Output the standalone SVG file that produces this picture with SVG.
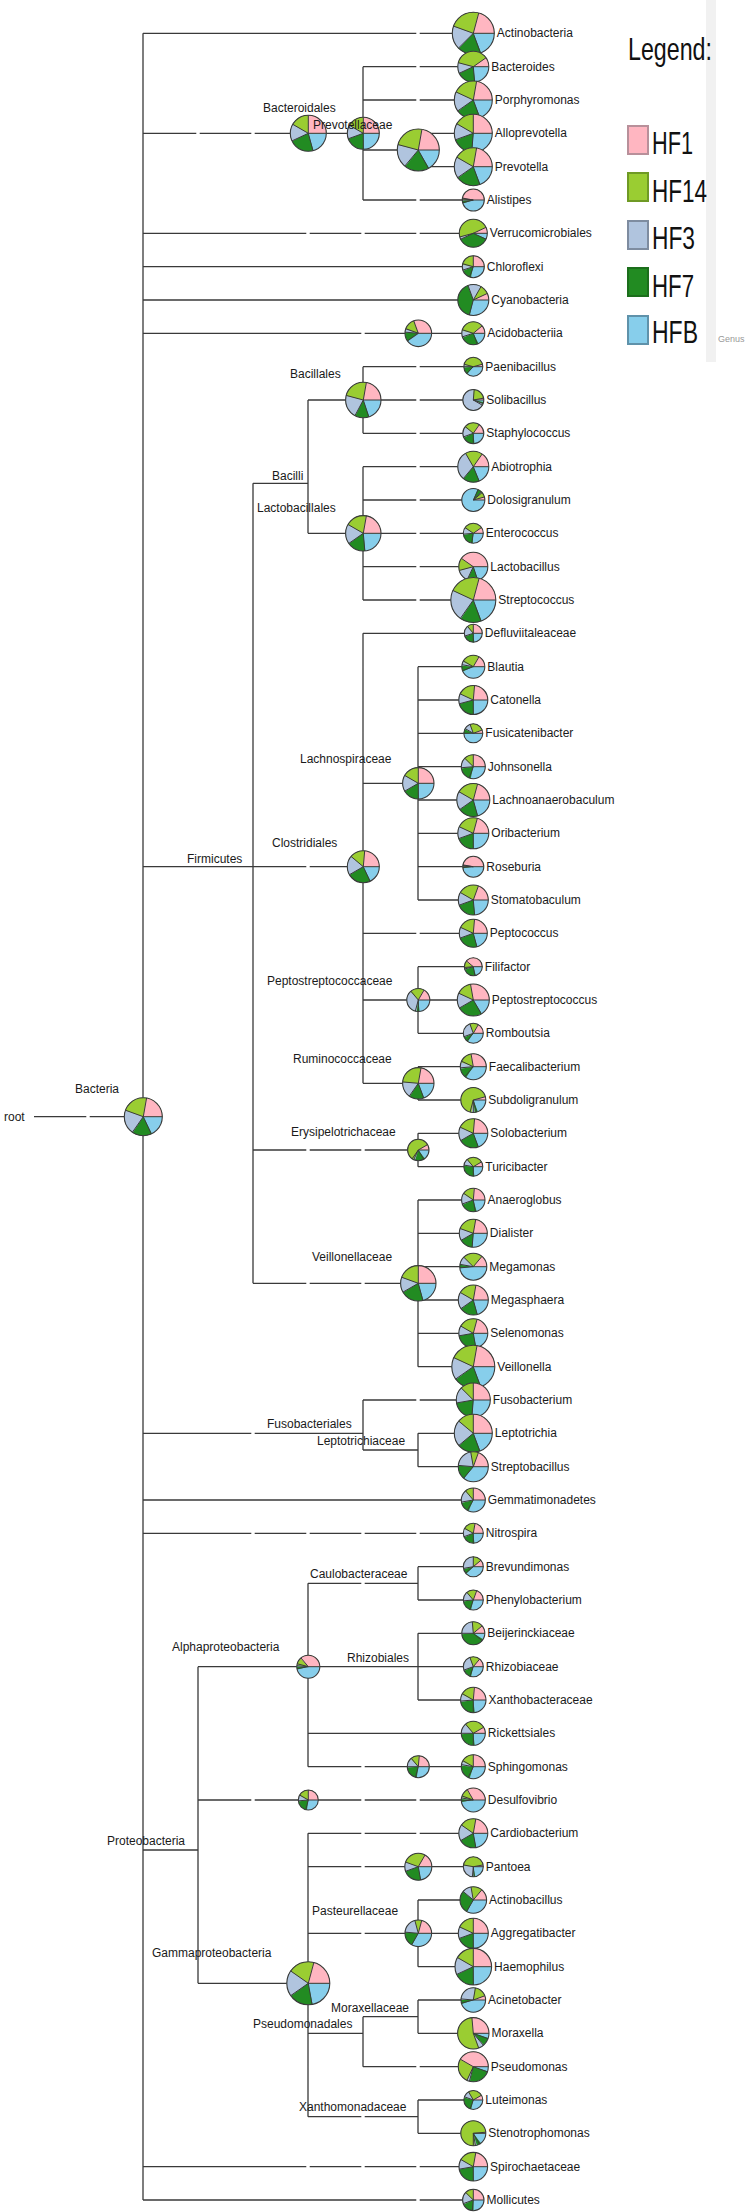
<svg xmlns="http://www.w3.org/2000/svg" xmlns:xlink="http://www.w3.org/1999/xlink" width="748" height="2212" viewBox="0 0 748 2212">
<style>
text{font-family:"Liberation Sans",Arial,sans-serif;font-size:12px;fill:#1a1a1a}
.e{fill:none;stroke:#3a3a3a;stroke-width:1.3}
.c1{stroke:#FFB6C1}.c14{stroke:#9ACD32}.c3{stroke:#B0C4DE}.c7{stroke:#228B22}
.lg{font-family:"Liberation Sans Narrow","Liberation Sans",Arial,sans-serif;font-size:31px;fill:#111}
.bx{stroke-width:2}
</style>
<defs>
<circle id="S" r="57.2958" fill="none" stroke-width="114.5916"/>
<circle id="D" r="114.5916" fill="#87CEEB"/>
<path id="R" d="M0 0H114.6" stroke="#3a3a3a" stroke-width="1" vector-effect="non-scaling-stroke"/>
<circle id="O" r="114.6" fill="none" stroke="#3a3a3a" stroke-width="1.1" vector-effect="non-scaling-stroke"/>
</defs>
<rect width="748" height="2212" fill="#fff"/>
<g id="legend">
<rect x="706" y="0" width="10" height="362" fill="#f1f1f1"/>
<text x="628" y="60" class="lg" style="font-size:32px" textLength="84" lengthAdjust="spacingAndGlyphs">Legend:</text>
<rect class="bx" x="628" y="126" width="20" height="28" fill="#FFB6C1" stroke="#b8909a"/>
<text x="652" y="154" class="lg" textLength="41" lengthAdjust="spacingAndGlyphs">HF1</text>
<rect class="bx" x="628" y="173" width="20" height="28" fill="#9ACD32" stroke="#6f9a25"/>
<text x="652" y="202" class="lg" textLength="55" lengthAdjust="spacingAndGlyphs">HF14</text>
<rect class="bx" x="628" y="221" width="20" height="28" fill="#B0C4DE" stroke="#7e8ca0"/>
<text x="652" y="249" class="lg" textLength="43" lengthAdjust="spacingAndGlyphs">HF3</text>
<rect class="bx" x="628" y="268" width="20" height="28" fill="#228B22" stroke="#1c6e1c"/>
<text x="652" y="297" class="lg" textLength="42" lengthAdjust="spacingAndGlyphs">HF7</text>
<rect class="bx" x="628" y="316" width="20" height="28" fill="#87CEEB" stroke="#5f92aa"/>
<text x="652" y="343" class="lg" textLength="46" lengthAdjust="spacingAndGlyphs">HFB</text>
<text x="718" y="342" style="font-size:9px;fill:#999">Genus</text>
</g>
<g id="connectors">
<path class="e" d="M34 1116.7H86.3M89.7 1116.7H143M143 33.3V2200
M143 33.3H416.3M419.7 33.3H473
M143 133.3H196.3M199.7 133.3H251.3M254.7 133.3H363M363 66.7V200M363 66.7H416.3M419.7 66.7H473M363 100H416.3M419.7 100H473M363 150H418M418 133.3V166.7M418 133.3H473M418 166.7H473M363 200H416.3M419.7 200H473
M143 233.3H306.3M309.7 233.3H361.3M364.7 233.3H416.3M419.7 233.3H473
M143 266.7H473M143 300H473
M143 333.3H361.3M364.7 333.3H473
M143 866.7H253M253 483.3V1283.3
M253 483.3H308M308 400V533.3M308 400H363M308 533.3H363
M363 366.7V433.3M363 366.7H416.3M419.7 366.7H473M363 400H416.3M419.7 400H473M363 433.3H416.3M419.7 433.3H473
M363 466.7V600M363 466.7H416.3M419.7 466.7H473M363 500H416.3M419.7 500H473M363 533.3H416.3M419.7 533.3H473M363 566.7H416.3M419.7 566.7H473M363 600H416.3M419.7 600H473
M253 866.7H306.3M309.7 866.7H363M363 633.3V1083.3M363 633.3H473
M363 783.3H418M418 666.7V900M418 666.7H473M418 700H473M418 733.3H473M418 766.7H473M418 800H473M418 833.3H473M418 866.7H473M418 900H473
M363 933.3H416.3M419.7 933.3H473
M363 1000H418M418 966.7V1033.3M418 966.7H473M418 1000H473M418 1033.3H473
M363 1083.3H418M418 1066.7V1100M418 1066.7H473M418 1100H473
M253 1150H306.3M309.7 1150H361.3M364.7 1150H418M418 1133.3V1166.7M418 1133.3H473M418 1166.7H473
M253 1283.3H306.3M309.7 1283.3H361.3M364.7 1283.3H418M418 1200V1366.7M418 1200H473M418 1233.3H473M418 1266.7H473M418 1300H473M418 1333.3H473M418 1366.7H473
M143 1433.3H251.3M254.7 1433.3H363M363 1400V1450M363 1400H416.3M419.7 1400H473M363 1450H418M418 1433.3V1466.7M418 1433.3H473M418 1466.7H473
M143 1500H473
M143 1533.3H251.3M254.7 1533.3H306.3M309.7 1533.3H361.3M364.7 1533.3H416.3M419.7 1533.3H473
M143 1850H198M198 1666.7V1983.3
M198 1666.7H308M308 1583.3V1766.7
M308 1583.3H361.3M364.7 1583.3H418M418 1566.7V1600M418 1566.7H473M418 1600H473
M308 1666.7H418M418 1633.3V1700M418 1633.3H473M418 1666.7H473M418 1700H473
M308 1733.3H473
M308 1766.7H361.3M364.7 1766.7H473
M198 1800H251.3M254.7 1800H361.3M364.7 1800H416.3M419.7 1800H473
M198 1983.3H308M308 1833.3V2116.7
M308 1833.3H361.3M364.7 1833.3H416.3M419.7 1833.3H473
M308 1866.7H361.3M364.7 1866.7H473
M308 1933.3H361.3M364.7 1933.3H418M418 1900V1966.7M418 1900H473M418 1933.3H473M418 1966.7H473
M308 2033.3H363M363 2016.7V2066.7M363 2016.7H418M418 2000V2033.3M418 2000H473M418 2033.3H473M363 2066.7H416.3M419.7 2066.7H473
M308 2116.7H361.3M364.7 2116.7H418M418 2100V2133.3M418 2100H473M418 2133.3H473
M143 2166.7H306.3M309.7 2166.7H361.3M364.7 2166.7H416.3M419.7 2166.7H473
M143 2200H416.3M419.7 2200H473"/>
</g>
<g id="nodes">
<g id="n-root"><text x="4" y="1121">root</text></g>
<g id="n-bacteria"><g transform="translate(143.3,1116.7) scale(.1658,-.1658)"><use href="#D"/><use href="#S" class="c7" stroke-dasharray="295 360"/><use href="#S" class="c3" stroke-dasharray="235 360"/><use href="#S" class="c14" stroke-dasharray="160 360"/><use href="#S" class="c1" stroke-dasharray="80 360"/><use href="#R"/><use href="#R" transform="rotate(80)"/><use href="#R" transform="rotate(160)"/><use href="#R" transform="rotate(235)"/><use href="#R" transform="rotate(295)"/><use href="#O"/></g><text x="75" y="1093">Bacteria</text></g>
<g id="n-bacteroidales"><g transform="translate(308.3,133.3) scale(.1571,-.1571)"><use href="#D"/><use href="#S" class="c7" stroke-dasharray="285 360"/><use href="#S" class="c3" stroke-dasharray="205 360"/><use href="#S" class="c14" stroke-dasharray="150 360"/><use href="#S" class="c1" stroke-dasharray="90 360"/><use href="#R"/><use href="#R" transform="rotate(90)"/><use href="#R" transform="rotate(150)"/><use href="#R" transform="rotate(205)"/><use href="#R" transform="rotate(285)"/><use href="#O"/></g><text x="263" y="112">Bacteroidales</text></g>
<g id="n-prevotellaceae"><g transform="translate(363.3,133.3) scale(.1396,-.1396)"><use href="#D"/><use href="#S" class="c7" stroke-dasharray="270 360"/><use href="#S" class="c3" stroke-dasharray="200 360"/><use href="#S" class="c14" stroke-dasharray="150 360"/><use href="#S" class="c1" stroke-dasharray="90 360"/><use href="#R"/><use href="#R" transform="rotate(90)"/><use href="#R" transform="rotate(150)"/><use href="#R" transform="rotate(200)"/><use href="#R" transform="rotate(270)"/><use href="#O"/></g><text x="313" y="129">Prevotellaceae</text></g>
<g id="n-prevotella-group"><g transform="translate(418.3,150) scale(.1833,-.1833)"><use href="#D"/><use href="#S" class="c7" stroke-dasharray="299 360"/><use href="#S" class="c3" stroke-dasharray="230 360"/><use href="#S" class="c14" stroke-dasharray="165 360"/><use href="#S" class="c1" stroke-dasharray="80 360"/><use href="#R"/><use href="#R" transform="rotate(80)"/><use href="#R" transform="rotate(165)"/><use href="#R" transform="rotate(230)"/><use href="#R" transform="rotate(299)"/><use href="#O"/></g></g>
<g id="n-acidobacteriia-node"><g transform="translate(418.3,333.3) scale(.1161,-.1161)"><use href="#D"/><use href="#S" class="c7" stroke-dasharray="215 360"/><use href="#S" class="c3" stroke-dasharray="175 360"/><use href="#S" class="c14" stroke-dasharray="160 360"/><use href="#S" class="c1" stroke-dasharray="110 360"/><use href="#R"/><use href="#R" transform="rotate(110)"/><use href="#R" transform="rotate(160)"/><use href="#R" transform="rotate(175)"/><use href="#R" transform="rotate(215)"/><use href="#O"/></g></g>
<g id="n-bacilli"><text x="272" y="480">Bacilli</text></g>
<g id="n-bacillales"><g transform="translate(363.3,400) scale(.1545,-.1545)"><use href="#D"/><use href="#S" class="c7" stroke-dasharray="288 360"/><use href="#S" class="c3" stroke-dasharray="242 360"/><use href="#S" class="c14" stroke-dasharray="165 360"/><use href="#S" class="c1" stroke-dasharray="80 360"/><use href="#R"/><use href="#R" transform="rotate(80)"/><use href="#R" transform="rotate(165)"/><use href="#R" transform="rotate(242)"/><use href="#R" transform="rotate(288)"/><use href="#O"/></g><text x="290" y="378">Bacillales</text></g>
<g id="n-lactobacillales"><g transform="translate(363.3,533.3) scale(.1545,-.1545)"><use href="#D"/><use href="#S" class="c7" stroke-dasharray="275 360"/><use href="#S" class="c3" stroke-dasharray="215 360"/><use href="#S" class="c14" stroke-dasharray="150 360"/><use href="#S" class="c1" stroke-dasharray="80 360"/><use href="#R"/><use href="#R" transform="rotate(80)"/><use href="#R" transform="rotate(150)"/><use href="#R" transform="rotate(215)"/><use href="#R" transform="rotate(275)"/><use href="#O"/></g><text x="257" y="512">Lactobacillales</text></g>
<g id="n-firmicutes"><text x="187" y="863">Firmicutes</text></g>
<g id="n-clostridiales"><g transform="translate(363.3,866.7) scale(.1396,-.1396)"><use href="#D"/><use href="#S" class="c7" stroke-dasharray="295 360"/><use href="#S" class="c3" stroke-dasharray="210 360"/><use href="#S" class="c14" stroke-dasharray="140 360"/><use href="#S" class="c1" stroke-dasharray="85 360"/><use href="#R"/><use href="#R" transform="rotate(85)"/><use href="#R" transform="rotate(140)"/><use href="#R" transform="rotate(210)"/><use href="#R" transform="rotate(295)"/><use href="#O"/></g><text x="272" y="847">Clostridiales</text></g>
<g id="n-lachnospiraceae"><g transform="translate(418.3,783.3) scale(.1370,-.1370)"><use href="#D"/><use href="#S" class="c7" stroke-dasharray="270 360"/><use href="#S" class="c3" stroke-dasharray="210 360"/><use href="#S" class="c14" stroke-dasharray="150 360"/><use href="#S" class="c1" stroke-dasharray="90 360"/><use href="#R"/><use href="#R" transform="rotate(90)"/><use href="#R" transform="rotate(150)"/><use href="#R" transform="rotate(210)"/><use href="#R" transform="rotate(270)"/><use href="#O"/></g><text x="300" y="763">Lachnospiraceae</text></g>
<g id="n-peptostreptococcaceae"><g transform="translate(418.3,1000) scale(.1004,-.1004)"><use href="#D"/><use href="#S" class="c7" stroke-dasharray="270 360"/><use href="#S" class="c3" stroke-dasharray="255 360"/><use href="#S" class="c14" stroke-dasharray="130 360"/><use href="#S" class="c1" stroke-dasharray="60 360"/><use href="#R"/><use href="#R" transform="rotate(60)"/><use href="#R" transform="rotate(130)"/><use href="#R" transform="rotate(255)"/><use href="#R" transform="rotate(270)"/><use href="#O"/></g><text x="267" y="985">Peptostreptococcaceae</text></g>
<g id="n-ruminococcaceae"><g transform="translate(418.3,1083.3) scale(.1370,-.1370)"><use href="#D"/><use href="#S" class="c7" stroke-dasharray="290 360"/><use href="#S" class="c3" stroke-dasharray="235 360"/><use href="#S" class="c14" stroke-dasharray="175 360"/><use href="#S" class="c1" stroke-dasharray="80 360"/><use href="#R"/><use href="#R" transform="rotate(80)"/><use href="#R" transform="rotate(175)"/><use href="#R" transform="rotate(235)"/><use href="#R" transform="rotate(290)"/><use href="#O"/></g><text x="293" y="1063">Ruminococcaceae</text></g>
<g id="n-erysipelotrichaceae"><g transform="translate(418.3,1150) scale(.0934,-.0934)"><use href="#D"/><use href="#S" class="c7" stroke-dasharray="300 360"/><use href="#S" class="c3" stroke-dasharray="245 360"/><use href="#S" class="c14" stroke-dasharray="235 360"/><use href="#S" class="c1" stroke-dasharray="30 360"/><use href="#R"/><use href="#R" transform="rotate(30)"/><use href="#R" transform="rotate(235)"/><use href="#R" transform="rotate(245)"/><use href="#R" transform="rotate(300)"/><use href="#O"/></g><text x="291" y="1136">Erysipelotrichaceae</text></g>
<g id="n-veillonellaceae"><g transform="translate(418.3,1283.3) scale(.1545,-.1545)"><use href="#D"/><use href="#S" class="c7" stroke-dasharray="285 360"/><use href="#S" class="c3" stroke-dasharray="210 360"/><use href="#S" class="c14" stroke-dasharray="160 360"/><use href="#S" class="c1" stroke-dasharray="90 360"/><use href="#R"/><use href="#R" transform="rotate(90)"/><use href="#R" transform="rotate(160)"/><use href="#R" transform="rotate(210)"/><use href="#R" transform="rotate(285)"/><use href="#O"/></g><text x="312" y="1261">Veillonellaceae</text></g>
<g id="n-fusobacteriales"><text x="267" y="1428">Fusobacteriales</text></g>
<g id="n-leptotrichiaceae"><text x="317" y="1445">Leptotrichiaceae</text></g>
<g id="n-proteobacteria"><text x="107" y="1845">Proteobacteria</text></g>
<g id="n-alphaproteobacteria"><g transform="translate(308.3,1666.7) scale(.1004,-.1004)"><use href="#D"/><use href="#S" class="c7" stroke-dasharray="190 360"/><use href="#S" class="c3" stroke-dasharray="175 360"/><use href="#S" class="c14" stroke-dasharray="165 360"/><use href="#S" class="c1" stroke-dasharray="130 360"/><use href="#R"/><use href="#R" transform="rotate(130)"/><use href="#R" transform="rotate(165)"/><use href="#R" transform="rotate(175)"/><use href="#R" transform="rotate(190)"/><use href="#O"/></g><text x="172" y="1651">Alphaproteobacteria</text></g>
<g id="n-caulobacteraceae"><text x="310" y="1578">Caulobacteraceae</text></g>
<g id="n-rhizobiales"><text x="347" y="1662">Rhizobiales</text></g>
<g id="n-sphingomonas-node"><g transform="translate(418.3,1766.7) scale(.0960,-.0960)"><use href="#D"/><use href="#S" class="c7" stroke-dasharray="255 360"/><use href="#S" class="c3" stroke-dasharray="180 360"/><use href="#S" class="c14" stroke-dasharray="130 360"/><use href="#S" class="c1" stroke-dasharray="85 360"/><use href="#R"/><use href="#R" transform="rotate(85)"/><use href="#R" transform="rotate(130)"/><use href="#R" transform="rotate(180)"/><use href="#R" transform="rotate(255)"/><use href="#O"/></g></g>
<g id="n-desulfovibrio-node"><g transform="translate(308.3,1800) scale(.0873,-.0873)"><use href="#D"/><use href="#S" class="c7" stroke-dasharray="255 360"/><use href="#S" class="c3" stroke-dasharray="185 360"/><use href="#S" class="c14" stroke-dasharray="150 360"/><use href="#S" class="c1" stroke-dasharray="90 360"/><use href="#R"/><use href="#R" transform="rotate(90)"/><use href="#R" transform="rotate(150)"/><use href="#R" transform="rotate(185)"/><use href="#R" transform="rotate(255)"/><use href="#O"/></g></g>
<g id="n-gammaproteobacteria"><g transform="translate(308.3,1983.3) scale(.1876,-.1876)"><use href="#D"/><use href="#S" class="c7" stroke-dasharray="280 360"/><use href="#S" class="c3" stroke-dasharray="215 360"/><use href="#S" class="c14" stroke-dasharray="145 360"/><use href="#S" class="c1" stroke-dasharray="75 360"/><use href="#R"/><use href="#R" transform="rotate(75)"/><use href="#R" transform="rotate(145)"/><use href="#R" transform="rotate(215)"/><use href="#R" transform="rotate(280)"/><use href="#O"/></g><text x="152" y="1957">Gammaproteobacteria</text></g>
<g id="n-pantoea-node"><g transform="translate(418.3,1866.7) scale(.1178,-.1178)"><use href="#D"/><use href="#S" class="c7" stroke-dasharray="280 360"/><use href="#S" class="c3" stroke-dasharray="200 360"/><use href="#S" class="c14" stroke-dasharray="160 360"/><use href="#S" class="c1" stroke-dasharray="60 360"/><use href="#R"/><use href="#R" transform="rotate(60)"/><use href="#R" transform="rotate(160)"/><use href="#R" transform="rotate(200)"/><use href="#R" transform="rotate(280)"/><use href="#O"/></g></g>
<g id="n-pasteurellaceae"><g transform="translate(418.3,1933.3) scale(.1161,-.1161)"><use href="#D"/><use href="#S" class="c7" stroke-dasharray="240 360"/><use href="#S" class="c3" stroke-dasharray="175 360"/><use href="#S" class="c14" stroke-dasharray="105 360"/><use href="#S" class="c1" stroke-dasharray="75 360"/><use href="#R"/><use href="#R" transform="rotate(75)"/><use href="#R" transform="rotate(105)"/><use href="#R" transform="rotate(175)"/><use href="#R" transform="rotate(240)"/><use href="#O"/></g><text x="312" y="1915">Pasteurellaceae</text></g>
<g id="n-pseudomonadales"><text x="253" y="2028">Pseudomonadales</text></g>
<g id="n-moraxellaceae"><text x="331" y="2012">Moraxellaceae</text></g>
<g id="n-xanthomonadaceae"><text x="299" y="2111">Xanthomonadaceae</text></g>

<g id="l-actinobacteria"><g transform="translate(473.3,33.3) scale(.1833,-.1833)"><use href="#D"/><use href="#S" class="c7" stroke-dasharray="290 360"/><use href="#S" class="c3" stroke-dasharray="225 360"/><use href="#S" class="c14" stroke-dasharray="160 360"/><use href="#S" class="c1" stroke-dasharray="75 360"/><use href="#R"/><use href="#R" transform="rotate(75)"/><use href="#R" transform="rotate(160)"/><use href="#R" transform="rotate(225)"/><use href="#R" transform="rotate(290)"/><use href="#O"/></g><text x="496.8" y="37.3">Actinobacteria</text></g>
<g id="l-bacteroides"><g transform="translate(473.3,66.7) scale(.1353,-.1353)"><use href="#D"/><use href="#S" class="c7" stroke-dasharray="275 360"/><use href="#S" class="c3" stroke-dasharray="205 360"/><use href="#S" class="c14" stroke-dasharray="165 360"/><use href="#S" class="c1" stroke-dasharray="35 360"/><use href="#R"/><use href="#R" transform="rotate(35)"/><use href="#R" transform="rotate(165)"/><use href="#R" transform="rotate(205)"/><use href="#R" transform="rotate(275)"/><use href="#O"/></g><text x="491.3" y="70.7">Bacteroides</text></g>
<g id="l-porphyromonas"><g transform="translate(473.3,100) scale(.1658,-.1658)"><use href="#D"/><use href="#S" class="c7" stroke-dasharray="290 360"/><use href="#S" class="c3" stroke-dasharray="215 360"/><use href="#S" class="c14" stroke-dasharray="155 360"/><use href="#S" class="c1" stroke-dasharray="80 360"/><use href="#R"/><use href="#R" transform="rotate(80)"/><use href="#R" transform="rotate(155)"/><use href="#R" transform="rotate(215)"/><use href="#R" transform="rotate(290)"/><use href="#O"/></g><text x="494.8" y="104">Porphyromonas</text></g>
<g id="l-alloprevotella"><g transform="translate(473.3,133.3) scale(.1658,-.1658)"><use href="#D"/><use href="#S" class="c7" stroke-dasharray="265 360"/><use href="#S" class="c3" stroke-dasharray="200 360"/><use href="#S" class="c14" stroke-dasharray="150 360"/><use href="#S" class="c1" stroke-dasharray="90 360"/><use href="#R"/><use href="#R" transform="rotate(90)"/><use href="#R" transform="rotate(150)"/><use href="#R" transform="rotate(200)"/><use href="#R" transform="rotate(265)"/><use href="#O"/></g><text x="494.8" y="137.3">Alloprevotella</text></g>
<g id="l-prevotella"><g transform="translate(473.3,166.7) scale(.1658,-.1658)"><use href="#D"/><use href="#S" class="c7" stroke-dasharray="290 360"/><use href="#S" class="c3" stroke-dasharray="215 360"/><use href="#S" class="c14" stroke-dasharray="150 360"/><use href="#S" class="c1" stroke-dasharray="80 360"/><use href="#R"/><use href="#R" transform="rotate(80)"/><use href="#R" transform="rotate(150)"/><use href="#R" transform="rotate(215)"/><use href="#R" transform="rotate(290)"/><use href="#O"/></g><text x="494.8" y="170.7">Prevotella</text></g>
<g id="l-alistipes"><g transform="translate(473.3,200) scale(.0960,-.0960)"><use href="#D"/><use href="#S" class="c7" stroke-dasharray="195 360"/><use href="#S" class="c3" stroke-dasharray="180 360"/><use href="#S" class="c14" stroke-dasharray="174 360"/><use href="#S" class="c1" stroke-dasharray="170 360"/><use href="#R"/><use href="#R" transform="rotate(170)"/><use href="#R" transform="rotate(174)"/><use href="#R" transform="rotate(180)"/><use href="#R" transform="rotate(195)"/><use href="#O"/></g><text x="486.8" y="204">Alistipes</text></g>
<g id="l-verrucomicrobiales"><g transform="translate(473.3,233.3) scale(.1222,-.1222)"><use href="#D"/><use href="#S" class="c7" stroke-dasharray="335 360"/><use href="#S" class="c3" stroke-dasharray="205 360"/><use href="#S" class="c14" stroke-dasharray="195 360"/><use href="#S" class="c1" stroke-dasharray="25 360"/><use href="#R"/><use href="#R" transform="rotate(25)"/><use href="#R" transform="rotate(195)"/><use href="#R" transform="rotate(205)"/><use href="#R" transform="rotate(335)"/><use href="#O"/></g><text x="489.8" y="237.3">Verrucomicrobiales</text></g>
<g id="l-chloroflexi"><g transform="translate(473.3,266.7) scale(.0960,-.0960)"><use href="#D"/><use href="#S" class="c7" stroke-dasharray="250 360"/><use href="#S" class="c3" stroke-dasharray="198 360"/><use href="#S" class="c14" stroke-dasharray="165 360"/><use href="#S" class="c1" stroke-dasharray="90 360"/><use href="#R"/><use href="#R" transform="rotate(90)"/><use href="#R" transform="rotate(165)"/><use href="#R" transform="rotate(198)"/><use href="#R" transform="rotate(250)"/><use href="#O"/></g><text x="486.8" y="270.7">Chloroflexi</text></g>
<g id="l-cyanobacteria"><g transform="translate(473.3,300) scale(.1353,-.1353)"><use href="#D"/><use href="#S" class="c7" stroke-dasharray="255 360"/><use href="#S" class="c3" stroke-dasharray="110 360"/><use href="#S" class="c14" stroke-dasharray="60 360"/><use href="#S" class="c1" stroke-dasharray="25 360"/><use href="#R"/><use href="#R" transform="rotate(25)"/><use href="#R" transform="rotate(60)"/><use href="#R" transform="rotate(110)"/><use href="#R" transform="rotate(255)"/><use href="#O"/></g><text x="491.3" y="304">Cyanobacteria</text></g>
<g id="l-acidobacteriia"><g transform="translate(473.3,333.3) scale(.1004,-.1004)"><use href="#D"/><use href="#S" class="c7" stroke-dasharray="290 360"/><use href="#S" class="c3" stroke-dasharray="198 360"/><use href="#S" class="c14" stroke-dasharray="162 360"/><use href="#S" class="c1" stroke-dasharray="40 360"/><use href="#R"/><use href="#R" transform="rotate(40)"/><use href="#R" transform="rotate(162)"/><use href="#R" transform="rotate(198)"/><use href="#R" transform="rotate(290)"/><use href="#O"/></g><text x="487.3" y="337.3">Acidobacteriia</text></g>
<g id="l-paenibacillus"><g transform="translate(473.3,366.7) scale(.0829,-.0829)"><use href="#D"/><use href="#S" class="c7" stroke-dasharray="225 360"/><use href="#S" class="c3" stroke-dasharray="180 360"/><use href="#S" class="c14" stroke-dasharray="165 360"/><use href="#S" class="c1" stroke-dasharray="15 360"/><use href="#R"/><use href="#R" transform="rotate(15)"/><use href="#R" transform="rotate(165)"/><use href="#R" transform="rotate(180)"/><use href="#R" transform="rotate(225)"/><use href="#O"/></g><text x="485.3" y="370.7">Paenibacillus</text></g>
<g id="l-solibacillus"><g transform="translate(473.3,400) scale(.0916,-.0916)"><use href="#D"/><use href="#S" class="c7" stroke-dasharray="340 360"/><use href="#S" class="c3" stroke-dasharray="330 360"/><use href="#S" class="c14" stroke-dasharray="85 360"/><use href="#S" class="c1" stroke-dasharray="10 360"/><use href="#R"/><use href="#R" transform="rotate(10)"/><use href="#R" transform="rotate(85)"/><use href="#R" transform="rotate(330)"/><use href="#R" transform="rotate(340)"/><use href="#O"/></g><text x="486.3" y="404">Solibacillus</text></g>
<g id="l-staphylococcus"><g transform="translate(473.3,433.3) scale(.0916,-.0916)"><use href="#D"/><use href="#S" class="c7" stroke-dasharray="270 360"/><use href="#S" class="c3" stroke-dasharray="200 360"/><use href="#S" class="c14" stroke-dasharray="140 360"/><use href="#S" class="c1" stroke-dasharray="55 360"/><use href="#R"/><use href="#R" transform="rotate(55)"/><use href="#R" transform="rotate(140)"/><use href="#R" transform="rotate(200)"/><use href="#R" transform="rotate(270)"/><use href="#O"/></g><text x="486.3" y="437.3">Staphylococcus</text></g>
<g id="l-abiotrophia"><g transform="translate(473.3,466.7) scale(.1353,-.1353)"><use href="#D"/><use href="#S" class="c7" stroke-dasharray="292 360"/><use href="#S" class="c3" stroke-dasharray="230 360"/><use href="#S" class="c14" stroke-dasharray="120 360"/><use href="#S" class="c1" stroke-dasharray="55 360"/><use href="#R"/><use href="#R" transform="rotate(55)"/><use href="#R" transform="rotate(120)"/><use href="#R" transform="rotate(230)"/><use href="#R" transform="rotate(292)"/><use href="#O"/></g><text x="491.3" y="470.7">Abiotrophia</text></g>
<g id="l-dolosigranulum"><g transform="translate(473.3,500) scale(.1004,-.1004)"><use href="#D"/><use href="#S" class="c7" stroke-dasharray="65 360"/><use href="#S" class="c3" stroke-dasharray="45 360"/><use href="#S" class="c14" stroke-dasharray="40 360"/><use href="#S" class="c1" stroke-dasharray="15 360"/><use href="#R"/><use href="#R" transform="rotate(15)"/><use href="#R" transform="rotate(40)"/><use href="#R" transform="rotate(45)"/><use href="#R" transform="rotate(65)"/><use href="#O"/></g><text x="487.3" y="504">Dolosigranulum</text></g>
<g id="l-enterococcus"><g transform="translate(473.3,533.3) scale(.0873,-.0873)"><use href="#D"/><use href="#S" class="c7" stroke-dasharray="260 360"/><use href="#S" class="c3" stroke-dasharray="185 360"/><use href="#S" class="c14" stroke-dasharray="145 360"/><use href="#S" class="c1" stroke-dasharray="35 360"/><use href="#R"/><use href="#R" transform="rotate(35)"/><use href="#R" transform="rotate(145)"/><use href="#R" transform="rotate(185)"/><use href="#R" transform="rotate(260)"/><use href="#O"/></g><text x="485.8" y="537.3">Enterococcus</text></g>
<g id="l-lactobacillus"><g transform="translate(473.3,566.7) scale(.1265,-.1265)"><use href="#D"/><use href="#S" class="c7" stroke-dasharray="288 360"/><use href="#S" class="c3" stroke-dasharray="245 360"/><use href="#S" class="c14" stroke-dasharray="195 360"/><use href="#S" class="c1" stroke-dasharray="145 360"/><use href="#R"/><use href="#R" transform="rotate(145)"/><use href="#R" transform="rotate(195)"/><use href="#R" transform="rotate(245)"/><use href="#R" transform="rotate(288)"/><use href="#O"/></g><text x="490.3" y="570.7">Lactobacillus</text></g>
<g id="l-streptococcus"><g transform="translate(473.3,600) scale(.1964,-.1964)"><use href="#D"/><use href="#S" class="c7" stroke-dasharray="290 360"/><use href="#S" class="c3" stroke-dasharray="235 360"/><use href="#S" class="c14" stroke-dasharray="155 360"/><use href="#S" class="c1" stroke-dasharray="75 360"/><use href="#R"/><use href="#R" transform="rotate(75)"/><use href="#R" transform="rotate(155)"/><use href="#R" transform="rotate(235)"/><use href="#R" transform="rotate(290)"/><use href="#O"/></g><text x="498.3" y="604">Streptococcus</text></g>
<g id="l-defluviitaleaceae"><g transform="translate(473.3,633.3) scale(.0785,-.0785)"><use href="#D"/><use href="#S" class="c7" stroke-dasharray="270 360"/><use href="#S" class="c3" stroke-dasharray="198 360"/><use href="#S" class="c14" stroke-dasharray="130 360"/><use href="#S" class="c1" stroke-dasharray="90 360"/><use href="#R"/><use href="#R" transform="rotate(90)"/><use href="#R" transform="rotate(130)"/><use href="#R" transform="rotate(198)"/><use href="#R" transform="rotate(270)"/><use href="#O"/></g><text x="484.8" y="637.3">Defluviitaleaceae</text></g>
<g id="l-blautia"><g transform="translate(473.3,666.7) scale(.1004,-.1004)"><use href="#D"/><use href="#S" class="c7" stroke-dasharray="200 360"/><use href="#S" class="c3" stroke-dasharray="170 360"/><use href="#S" class="c14" stroke-dasharray="150 360"/><use href="#S" class="c1" stroke-dasharray="60 360"/><use href="#R"/><use href="#R" transform="rotate(60)"/><use href="#R" transform="rotate(150)"/><use href="#R" transform="rotate(170)"/><use href="#R" transform="rotate(200)"/><use href="#O"/></g><text x="487.3" y="670.7">Blautia</text></g>
<g id="l-catonella"><g transform="translate(473.3,700) scale(.1265,-.1265)"><use href="#D"/><use href="#S" class="c7" stroke-dasharray="270 360"/><use href="#S" class="c3" stroke-dasharray="195 360"/><use href="#S" class="c14" stroke-dasharray="155 360"/><use href="#S" class="c1" stroke-dasharray="85 360"/><use href="#R"/><use href="#R" transform="rotate(85)"/><use href="#R" transform="rotate(155)"/><use href="#R" transform="rotate(195)"/><use href="#R" transform="rotate(270)"/><use href="#O"/></g><text x="490.3" y="704">Catonella</text></g>
<g id="l-fusicatenibacter"><g transform="translate(473.3,733.3) scale(.0829,-.0829)"><use href="#D"/><use href="#S" class="c7" stroke-dasharray="180 360"/><use href="#S" class="c3" stroke-dasharray="150 360"/><use href="#S" class="c14" stroke-dasharray="110 360"/><use href="#S" class="c1" stroke-dasharray="20 360"/><use href="#R"/><use href="#R" transform="rotate(20)"/><use href="#R" transform="rotate(110)"/><use href="#R" transform="rotate(150)"/><use href="#R" transform="rotate(180)"/><use href="#O"/></g><text x="485.3" y="737.3">Fusicatenibacter</text></g>
<g id="l-johnsonella"><g transform="translate(473.3,766.7) scale(.1047,-.1047)"><use href="#D"/><use href="#S" class="c7" stroke-dasharray="250 360"/><use href="#S" class="c3" stroke-dasharray="185 360"/><use href="#S" class="c14" stroke-dasharray="135 360"/><use href="#S" class="c1" stroke-dasharray="90 360"/><use href="#R"/><use href="#R" transform="rotate(90)"/><use href="#R" transform="rotate(135)"/><use href="#R" transform="rotate(185)"/><use href="#R" transform="rotate(250)"/><use href="#O"/></g><text x="487.8" y="770.7">Johnsonella</text></g>
<g id="l-lachnoanaerobaculum"><g transform="translate(473.3,800) scale(.1440,-.1440)"><use href="#D"/><use href="#S" class="c7" stroke-dasharray="285 360"/><use href="#S" class="c3" stroke-dasharray="215 360"/><use href="#S" class="c14" stroke-dasharray="150 360"/><use href="#S" class="c1" stroke-dasharray="75 360"/><use href="#R"/><use href="#R" transform="rotate(75)"/><use href="#R" transform="rotate(150)"/><use href="#R" transform="rotate(215)"/><use href="#R" transform="rotate(285)"/><use href="#O"/></g><text x="492.3" y="804">Lachnoanaerobaculum</text></g>
<g id="l-oribacterium"><g transform="translate(473.3,833.3) scale(.1353,-.1353)"><use href="#D"/><use href="#S" class="c7" stroke-dasharray="270 360"/><use href="#S" class="c3" stroke-dasharray="200 360"/><use href="#S" class="c14" stroke-dasharray="155 360"/><use href="#S" class="c1" stroke-dasharray="75 360"/><use href="#R"/><use href="#R" transform="rotate(75)"/><use href="#R" transform="rotate(155)"/><use href="#R" transform="rotate(200)"/><use href="#R" transform="rotate(270)"/><use href="#O"/></g><text x="491.3" y="837.3">Oribacterium</text></g>
<g id="l-roseburia"><g transform="translate(473.3,866.7) scale(.0916,-.0916)"><use href="#D"/><use href="#S" class="c7" stroke-dasharray="184 360"/><use href="#S" class="c3" stroke-dasharray="177 360"/><use href="#S" class="c14" stroke-dasharray="174 360"/><use href="#S" class="c1" stroke-dasharray="170 360"/><use href="#R"/><use href="#R" transform="rotate(170)"/><use href="#R" transform="rotate(174)"/><use href="#R" transform="rotate(177)"/><use href="#R" transform="rotate(184)"/><use href="#O"/></g><text x="486.3" y="870.7">Roseburia</text></g>
<g id="l-stomatobaculum"><g transform="translate(473.3,900) scale(.1309,-.1309)"><use href="#D"/><use href="#S" class="c7" stroke-dasharray="275 360"/><use href="#S" class="c3" stroke-dasharray="200 360"/><use href="#S" class="c14" stroke-dasharray="150 360"/><use href="#S" class="c1" stroke-dasharray="70 360"/><use href="#R"/><use href="#R" transform="rotate(70)"/><use href="#R" transform="rotate(150)"/><use href="#R" transform="rotate(200)"/><use href="#R" transform="rotate(275)"/><use href="#O"/></g><text x="490.8" y="904">Stomatobaculum</text></g>
<g id="l-peptococcus"><g transform="translate(473.3,933.3) scale(.1222,-.1222)"><use href="#D"/><use href="#S" class="c7" stroke-dasharray="285 360"/><use href="#S" class="c3" stroke-dasharray="200 360"/><use href="#S" class="c14" stroke-dasharray="155 360"/><use href="#S" class="c1" stroke-dasharray="85 360"/><use href="#R"/><use href="#R" transform="rotate(85)"/><use href="#R" transform="rotate(155)"/><use href="#R" transform="rotate(200)"/><use href="#R" transform="rotate(285)"/><use href="#O"/></g><text x="489.8" y="937.3">Peptococcus</text></g>
<g id="l-filifactor"><g transform="translate(473.3,966.7) scale(.0785,-.0785)"><use href="#D"/><use href="#S" class="c7" stroke-dasharray="280 360"/><use href="#S" class="c3" stroke-dasharray="195 360"/><use href="#S" class="c14" stroke-dasharray="185 360"/><use href="#S" class="c1" stroke-dasharray="140 360"/><use href="#R"/><use href="#R" transform="rotate(140)"/><use href="#R" transform="rotate(185)"/><use href="#R" transform="rotate(195)"/><use href="#R" transform="rotate(280)"/><use href="#O"/></g><text x="484.8" y="970.7">Filifactor</text></g>
<g id="l-peptostreptococcus"><g transform="translate(473.3,1000) scale(.1396,-.1396)"><use href="#D"/><use href="#S" class="c7" stroke-dasharray="300 360"/><use href="#S" class="c3" stroke-dasharray="210 360"/><use href="#S" class="c14" stroke-dasharray="155 360"/><use href="#S" class="c1" stroke-dasharray="100 360"/><use href="#R"/><use href="#R" transform="rotate(100)"/><use href="#R" transform="rotate(155)"/><use href="#R" transform="rotate(210)"/><use href="#R" transform="rotate(300)"/><use href="#O"/></g><text x="491.8" y="1004">Peptostreptococcus</text></g>
<g id="l-romboutsia"><g transform="translate(473.3,1033.3) scale(.0873,-.0873)"><use href="#D"/><use href="#S" class="c7" stroke-dasharray="230 360"/><use href="#S" class="c3" stroke-dasharray="200 360"/><use href="#S" class="c14" stroke-dasharray="110 360"/><use href="#S" class="c1" stroke-dasharray="60 360"/><use href="#R"/><use href="#R" transform="rotate(60)"/><use href="#R" transform="rotate(110)"/><use href="#R" transform="rotate(200)"/><use href="#R" transform="rotate(230)"/><use href="#O"/></g><text x="485.8" y="1037.3">Romboutsia</text></g>
<g id="l-faecalibacterium"><g transform="translate(473.3,1066.7) scale(.1134,-.1134)"><use href="#D"/><use href="#S" class="c7" stroke-dasharray="230 360"/><use href="#S" class="c3" stroke-dasharray="185 360"/><use href="#S" class="c14" stroke-dasharray="155 360"/><use href="#S" class="c1" stroke-dasharray="100 360"/><use href="#R"/><use href="#R" transform="rotate(100)"/><use href="#R" transform="rotate(155)"/><use href="#R" transform="rotate(185)"/><use href="#R" transform="rotate(230)"/><use href="#O"/></g><text x="488.8" y="1070.7">Faecalibacterium</text></g>
<g id="l-subdoligranulum"><g transform="translate(473.3,1100) scale(.1091,-.1091)"><use href="#D"/><use href="#S" class="c7" stroke-dasharray="285 360"/><use href="#S" class="c3" stroke-dasharray="270 360"/><use href="#S" class="c14" stroke-dasharray="255 360"/><use href="#S" class="c1" stroke-dasharray="15 360"/><use href="#R"/><use href="#R" transform="rotate(15)"/><use href="#R" transform="rotate(255)"/><use href="#R" transform="rotate(270)"/><use href="#R" transform="rotate(285)"/><use href="#O"/></g><text x="488.3" y="1104">Subdoligranulum</text></g>
<g id="l-solobacterium"><g transform="translate(473.3,1133.3) scale(.1265,-.1265)"><use href="#D"/><use href="#S" class="c7" stroke-dasharray="290 360"/><use href="#S" class="c3" stroke-dasharray="210 360"/><use href="#S" class="c14" stroke-dasharray="155 360"/><use href="#S" class="c1" stroke-dasharray="85 360"/><use href="#R"/><use href="#R" transform="rotate(85)"/><use href="#R" transform="rotate(155)"/><use href="#R" transform="rotate(210)"/><use href="#R" transform="rotate(290)"/><use href="#O"/></g><text x="490.3" y="1137.3">Solobacterium</text></g>
<g id="l-turicibacter"><g transform="translate(473.3,1166.7) scale(.0829,-.0829)"><use href="#D"/><use href="#S" class="c7" stroke-dasharray="270 360"/><use href="#S" class="c3" stroke-dasharray="170 360"/><use href="#S" class="c14" stroke-dasharray="130 360"/><use href="#S" class="c1" stroke-dasharray="30 360"/><use href="#R"/><use href="#R" transform="rotate(30)"/><use href="#R" transform="rotate(130)"/><use href="#R" transform="rotate(170)"/><use href="#R" transform="rotate(270)"/><use href="#O"/></g><text x="485.3" y="1170.7">Turicibacter</text></g>
<g id="l-anaeroglobus"><g transform="translate(473.3,1200) scale(.1021,-.1021)"><use href="#D"/><use href="#S" class="c7" stroke-dasharray="280 360"/><use href="#S" class="c3" stroke-dasharray="200 360"/><use href="#S" class="c14" stroke-dasharray="145 360"/><use href="#S" class="c1" stroke-dasharray="85 360"/><use href="#R"/><use href="#R" transform="rotate(85)"/><use href="#R" transform="rotate(145)"/><use href="#R" transform="rotate(200)"/><use href="#R" transform="rotate(280)"/><use href="#O"/></g><text x="487.5" y="1204">Anaeroglobus</text></g>
<g id="l-dialister"><g transform="translate(473.3,1233.3) scale(.1222,-.1222)"><use href="#D"/><use href="#S" class="c7" stroke-dasharray="265 360"/><use href="#S" class="c3" stroke-dasharray="210 360"/><use href="#S" class="c14" stroke-dasharray="160 360"/><use href="#S" class="c1" stroke-dasharray="80 360"/><use href="#R"/><use href="#R" transform="rotate(80)"/><use href="#R" transform="rotate(160)"/><use href="#R" transform="rotate(210)"/><use href="#R" transform="rotate(265)"/><use href="#O"/></g><text x="489.8" y="1237.3">Dialister</text></g>
<g id="l-megamonas"><g transform="translate(473.3,1266.7) scale(.1178,-.1178)"><use href="#D"/><use href="#S" class="c7" stroke-dasharray="185 360"/><use href="#S" class="c3" stroke-dasharray="170 360"/><use href="#S" class="c14" stroke-dasharray="135 360"/><use href="#S" class="c1" stroke-dasharray="50 360"/><use href="#R"/><use href="#R" transform="rotate(50)"/><use href="#R" transform="rotate(135)"/><use href="#R" transform="rotate(170)"/><use href="#R" transform="rotate(185)"/><use href="#O"/></g><text x="489.3" y="1270.7">Megamonas</text></g>
<g id="l-megasphaera"><g transform="translate(473.3,1300) scale(.1309,-.1309)"><use href="#D"/><use href="#S" class="c7" stroke-dasharray="285 360"/><use href="#S" class="c3" stroke-dasharray="215 360"/><use href="#S" class="c14" stroke-dasharray="150 360"/><use href="#S" class="c1" stroke-dasharray="80 360"/><use href="#R"/><use href="#R" transform="rotate(80)"/><use href="#R" transform="rotate(150)"/><use href="#R" transform="rotate(215)"/><use href="#R" transform="rotate(285)"/><use href="#O"/></g><text x="490.8" y="1304">Megasphaera</text></g>
<g id="l-selenomonas"><g transform="translate(473.3,1333.3) scale(.1265,-.1265)"><use href="#D"/><use href="#S" class="c7" stroke-dasharray="280 360"/><use href="#S" class="c3" stroke-dasharray="190 360"/><use href="#S" class="c14" stroke-dasharray="150 360"/><use href="#S" class="c1" stroke-dasharray="75 360"/><use href="#R"/><use href="#R" transform="rotate(75)"/><use href="#R" transform="rotate(150)"/><use href="#R" transform="rotate(190)"/><use href="#R" transform="rotate(280)"/><use href="#O"/></g><text x="490.3" y="1337.3">Selenomonas</text></g>
<g id="l-veillonella"><g transform="translate(473.3,1366.7) scale(.1876,-.1876)"><use href="#D"/><use href="#S" class="c7" stroke-dasharray="290 360"/><use href="#S" class="c3" stroke-dasharray="215 360"/><use href="#S" class="c14" stroke-dasharray="155 360"/><use href="#S" class="c1" stroke-dasharray="80 360"/><use href="#R"/><use href="#R" transform="rotate(80)"/><use href="#R" transform="rotate(155)"/><use href="#R" transform="rotate(215)"/><use href="#R" transform="rotate(290)"/><use href="#O"/></g><text x="497.3" y="1370.7">Veillonella</text></g>
<g id="l-fusobacterium"><g transform="translate(473.3,1400) scale(.1484,-.1484)"><use href="#D"/><use href="#S" class="c7" stroke-dasharray="265 360"/><use href="#S" class="c3" stroke-dasharray="190 360"/><use href="#S" class="c14" stroke-dasharray="135 360"/><use href="#S" class="c1" stroke-dasharray="90 360"/><use href="#R"/><use href="#R" transform="rotate(90)"/><use href="#R" transform="rotate(135)"/><use href="#R" transform="rotate(190)"/><use href="#R" transform="rotate(265)"/><use href="#O"/></g><text x="492.8" y="1404">Fusobacterium</text></g>
<g id="l-leptotrichia"><g transform="translate(473.3,1433.3) scale(.1658,-.1658)"><use href="#D"/><use href="#S" class="c7" stroke-dasharray="290 360"/><use href="#S" class="c3" stroke-dasharray="220 360"/><use href="#S" class="c14" stroke-dasharray="140 360"/><use href="#S" class="c1" stroke-dasharray="90 360"/><use href="#R"/><use href="#R" transform="rotate(90)"/><use href="#R" transform="rotate(140)"/><use href="#R" transform="rotate(220)"/><use href="#R" transform="rotate(290)"/><use href="#O"/></g><text x="494.8" y="1437.3">Leptotrichia</text></g>
<g id="l-streptobacillus"><g transform="translate(473.3,1466.7) scale(.1309,-.1309)"><use href="#D"/><use href="#S" class="c7" stroke-dasharray="230 360"/><use href="#S" class="c3" stroke-dasharray="175 360"/><use href="#S" class="c14" stroke-dasharray="100 360"/><use href="#S" class="c1" stroke-dasharray="70 360"/><use href="#R"/><use href="#R" transform="rotate(70)"/><use href="#R" transform="rotate(100)"/><use href="#R" transform="rotate(175)"/><use href="#R" transform="rotate(230)"/><use href="#O"/></g><text x="490.8" y="1470.7">Streptobacillus</text></g>
<g id="l-gemmatimonadetes"><g transform="translate(473.3,1500) scale(.1047,-.1047)"><use href="#D"/><use href="#S" class="c7" stroke-dasharray="240 360"/><use href="#S" class="c3" stroke-dasharray="190 360"/><use href="#S" class="c14" stroke-dasharray="130 360"/><use href="#S" class="c1" stroke-dasharray="90 360"/><use href="#R"/><use href="#R" transform="rotate(90)"/><use href="#R" transform="rotate(130)"/><use href="#R" transform="rotate(190)"/><use href="#R" transform="rotate(240)"/><use href="#O"/></g><text x="487.8" y="1504">Gemmatimonadetes</text></g>
<g id="l-nitrospira"><g transform="translate(473.3,1533.3) scale(.0873,-.0873)"><use href="#D"/><use href="#S" class="c7" stroke-dasharray="270 360"/><use href="#S" class="c3" stroke-dasharray="200 360"/><use href="#S" class="c14" stroke-dasharray="150 360"/><use href="#S" class="c1" stroke-dasharray="80 360"/><use href="#R"/><use href="#R" transform="rotate(80)"/><use href="#R" transform="rotate(150)"/><use href="#R" transform="rotate(200)"/><use href="#R" transform="rotate(270)"/><use href="#O"/></g><text x="485.8" y="1537.3">Nitrospira</text></g>
<g id="l-brevundimonas"><g transform="translate(473.3,1566.7) scale(.0873,-.0873)"><use href="#D"/><use href="#S" class="c7" stroke-dasharray="220 360"/><use href="#S" class="c3" stroke-dasharray="190 360"/><use href="#S" class="c14" stroke-dasharray="90 360"/><use href="#S" class="c1" stroke-dasharray="40 360"/><use href="#R"/><use href="#R" transform="rotate(40)"/><use href="#R" transform="rotate(90)"/><use href="#R" transform="rotate(190)"/><use href="#R" transform="rotate(220)"/><use href="#O"/></g><text x="485.8" y="1570.7">Brevundimonas</text></g>
<g id="l-phenylobacterium"><g transform="translate(473.3,1600) scale(.0873,-.0873)"><use href="#D"/><use href="#S" class="c7" stroke-dasharray="250 360"/><use href="#S" class="c3" stroke-dasharray="185 360"/><use href="#S" class="c14" stroke-dasharray="130 360"/><use href="#S" class="c1" stroke-dasharray="70 360"/><use href="#R"/><use href="#R" transform="rotate(70)"/><use href="#R" transform="rotate(130)"/><use href="#R" transform="rotate(185)"/><use href="#R" transform="rotate(250)"/><use href="#O"/></g><text x="485.8" y="1604">Phenylobacterium</text></g>
<g id="l-beijerinckiaceae"><g transform="translate(473.3,1633.3) scale(.1004,-.1004)"><use href="#D"/><use href="#S" class="c7" stroke-dasharray="320 360"/><use href="#S" class="c3" stroke-dasharray="180 360"/><use href="#S" class="c14" stroke-dasharray="95 360"/><use href="#S" class="c1" stroke-dasharray="40 360"/><use href="#R"/><use href="#R" transform="rotate(40)"/><use href="#R" transform="rotate(95)"/><use href="#R" transform="rotate(180)"/><use href="#R" transform="rotate(320)"/><use href="#O"/></g><text x="487.3" y="1637.3">Beijerinckiaceae</text></g>
<g id="l-rhizobiaceae"><g transform="translate(473.3,1666.7) scale(.0873,-.0873)"><use href="#D"/><use href="#S" class="c7" stroke-dasharray="250 360"/><use href="#S" class="c3" stroke-dasharray="200 360"/><use href="#S" class="c14" stroke-dasharray="110 360"/><use href="#S" class="c1" stroke-dasharray="50 360"/><use href="#R"/><use href="#R" transform="rotate(50)"/><use href="#R" transform="rotate(110)"/><use href="#R" transform="rotate(200)"/><use href="#R" transform="rotate(250)"/><use href="#O"/></g><text x="485.8" y="1670.7">Rhizobiaceae</text></g>
<g id="l-xanthobacteraceae"><g transform="translate(473.3,1700) scale(.1108,-.1108)"><use href="#D"/><use href="#S" class="c7" stroke-dasharray="270 360"/><use href="#S" class="c3" stroke-dasharray="185 360"/><use href="#S" class="c14" stroke-dasharray="150 360"/><use href="#S" class="c1" stroke-dasharray="85 360"/><use href="#R"/><use href="#R" transform="rotate(85)"/><use href="#R" transform="rotate(150)"/><use href="#R" transform="rotate(185)"/><use href="#R" transform="rotate(270)"/><use href="#O"/></g><text x="488.5" y="1704">Xanthobacteraceae</text></g>
<g id="l-rickettsiales"><g transform="translate(473.3,1733.3) scale(.1047,-.1047)"><use href="#D"/><use href="#S" class="c7" stroke-dasharray="270 360"/><use href="#S" class="c3" stroke-dasharray="180 360"/><use href="#S" class="c14" stroke-dasharray="130 360"/><use href="#S" class="c1" stroke-dasharray="30 360"/><use href="#R"/><use href="#R" transform="rotate(30)"/><use href="#R" transform="rotate(130)"/><use href="#R" transform="rotate(180)"/><use href="#R" transform="rotate(270)"/><use href="#O"/></g><text x="487.8" y="1737.3">Rickettsiales</text></g>
<g id="l-sphingomonas"><g transform="translate(473.3,1766.7) scale(.1047,-.1047)"><use href="#D"/><use href="#S" class="c7" stroke-dasharray="245 360"/><use href="#S" class="c3" stroke-dasharray="170 360"/><use href="#S" class="c14" stroke-dasharray="150 360"/><use href="#S" class="c1" stroke-dasharray="90 360"/><use href="#R"/><use href="#R" transform="rotate(90)"/><use href="#R" transform="rotate(150)"/><use href="#R" transform="rotate(170)"/><use href="#R" transform="rotate(245)"/><use href="#O"/></g><text x="487.8" y="1770.7">Sphingomonas</text></g>
<g id="l-desulfovibrio"><g transform="translate(473.3,1800) scale(.1047,-.1047)"><use href="#D"/><use href="#S" class="c7" stroke-dasharray="185 360"/><use href="#S" class="c3" stroke-dasharray="170 360"/><use href="#S" class="c14" stroke-dasharray="160 360"/><use href="#S" class="c1" stroke-dasharray="120 360"/><use href="#R"/><use href="#R" transform="rotate(120)"/><use href="#R" transform="rotate(160)"/><use href="#R" transform="rotate(170)"/><use href="#R" transform="rotate(185)"/><use href="#O"/></g><text x="487.8" y="1804">Desulfovibrio</text></g>
<g id="l-cardiobacterium"><g transform="translate(473.3,1833.3) scale(.1265,-.1265)"><use href="#D"/><use href="#S" class="c7" stroke-dasharray="280 360"/><use href="#S" class="c3" stroke-dasharray="210 360"/><use href="#S" class="c14" stroke-dasharray="145 360"/><use href="#S" class="c1" stroke-dasharray="80 360"/><use href="#R"/><use href="#R" transform="rotate(80)"/><use href="#R" transform="rotate(145)"/><use href="#R" transform="rotate(210)"/><use href="#R" transform="rotate(280)"/><use href="#O"/></g><text x="490.3" y="1837.3">Cardiobacterium</text></g>
<g id="l-pantoea"><g transform="translate(473.3,1866.7) scale(.0873,-.0873)"><use href="#D"/><use href="#S" class="c7" stroke-dasharray="275 360"/><use href="#S" class="c3" stroke-dasharray="265 360"/><use href="#S" class="c14" stroke-dasharray="170 360"/><use href="#S" class="c1" stroke-dasharray="10 360"/><use href="#R"/><use href="#R" transform="rotate(10)"/><use href="#R" transform="rotate(170)"/><use href="#R" transform="rotate(265)"/><use href="#R" transform="rotate(275)"/><use href="#O"/></g><text x="485.8" y="1870.7">Pantoea</text></g>
<g id="l-actinobacillus"><g transform="translate(473.3,1900) scale(.1161,-.1161)"><use href="#D"/><use href="#S" class="c7" stroke-dasharray="240 360"/><use href="#S" class="c3" stroke-dasharray="140 360"/><use href="#S" class="c14" stroke-dasharray="100 360"/><use href="#S" class="c1" stroke-dasharray="50 360"/><use href="#R"/><use href="#R" transform="rotate(50)"/><use href="#R" transform="rotate(100)"/><use href="#R" transform="rotate(140)"/><use href="#R" transform="rotate(240)"/><use href="#O"/></g><text x="489.1" y="1904">Actinobacillus</text></g>
<g id="l-aggregatibacter"><g transform="translate(473.3,1933.3) scale(.1309,-.1309)"><use href="#D"/><use href="#S" class="c7" stroke-dasharray="270 360"/><use href="#S" class="c3" stroke-dasharray="200 360"/><use href="#S" class="c14" stroke-dasharray="155 360"/><use href="#S" class="c1" stroke-dasharray="90 360"/><use href="#R"/><use href="#R" transform="rotate(90)"/><use href="#R" transform="rotate(155)"/><use href="#R" transform="rotate(200)"/><use href="#R" transform="rotate(270)"/><use href="#O"/></g><text x="490.8" y="1937.3">Aggregatibacter</text></g>
<g id="l-haemophilus"><g transform="translate(473.3,1966.7) scale(.1597,-.1597)"><use href="#D"/><use href="#S" class="c7" stroke-dasharray="270 360"/><use href="#S" class="c3" stroke-dasharray="205 360"/><use href="#S" class="c14" stroke-dasharray="150 360"/><use href="#S" class="c1" stroke-dasharray="90 360"/><use href="#R"/><use href="#R" transform="rotate(90)"/><use href="#R" transform="rotate(150)"/><use href="#R" transform="rotate(205)"/><use href="#R" transform="rotate(270)"/><use href="#O"/></g><text x="494.1" y="1970.7">Haemophilus</text></g>
<g id="l-acinetobacter"><g transform="translate(473.3,2000) scale(.1073,-.1073)"><use href="#D"/><use href="#S" class="c7" stroke-dasharray="195 360"/><use href="#S" class="c3" stroke-dasharray="175 360"/><use href="#S" class="c14" stroke-dasharray="80 360"/><use href="#S" class="c1" stroke-dasharray="20 360"/><use href="#R"/><use href="#R" transform="rotate(20)"/><use href="#R" transform="rotate(80)"/><use href="#R" transform="rotate(175)"/><use href="#R" transform="rotate(195)"/><use href="#O"/></g><text x="488.1" y="2004">Acinetobacter</text></g>
<g id="l-moraxella"><g transform="translate(473.3,2033.3) scale(.1370,-.1370)"><use href="#D"/><use href="#S" class="c7" stroke-dasharray="340 360"/><use href="#S" class="c3" stroke-dasharray="310 360"/><use href="#S" class="c14" stroke-dasharray="290 360"/><use href="#S" class="c1" stroke-dasharray="95 360"/><use href="#R"/><use href="#R" transform="rotate(95)"/><use href="#R" transform="rotate(290)"/><use href="#R" transform="rotate(310)"/><use href="#R" transform="rotate(340)"/><use href="#O"/></g><text x="491.5" y="2037.3">Moraxella</text></g>
<g id="l-pseudomonas"><g transform="translate(473.3,2066.7) scale(.1309,-.1309)"><use href="#D"/><use href="#S" class="c7" stroke-dasharray="340 360"/><use href="#S" class="c3" stroke-dasharray="255 360"/><use href="#S" class="c14" stroke-dasharray="245 360"/><use href="#S" class="c1" stroke-dasharray="150 360"/><use href="#R"/><use href="#R" transform="rotate(150)"/><use href="#R" transform="rotate(245)"/><use href="#R" transform="rotate(255)"/><use href="#R" transform="rotate(340)"/><use href="#O"/></g><text x="490.8" y="2070.7">Pseudomonas</text></g>
<g id="l-luteimonas"><g transform="translate(473.3,2100) scale(.0829,-.0829)"><use href="#D"/><use href="#S" class="c7" stroke-dasharray="250 360"/><use href="#S" class="c3" stroke-dasharray="160 360"/><use href="#S" class="c14" stroke-dasharray="120 360"/><use href="#S" class="c1" stroke-dasharray="30 360"/><use href="#R"/><use href="#R" transform="rotate(30)"/><use href="#R" transform="rotate(120)"/><use href="#R" transform="rotate(160)"/><use href="#R" transform="rotate(250)"/><use href="#O"/></g><text x="485.3" y="2104">Luteimonas</text></g>
<g id="l-stenotrophomonas"><g transform="translate(473.3,2133.3) scale(.1091,-.1091)"><use href="#D"/><use href="#S" class="c7" stroke-dasharray="300 360"/><use href="#S" class="c3" stroke-dasharray="280 360"/><use href="#S" class="c14" stroke-dasharray="270 360"/><use href="#S" class="c1" stroke-dasharray="5 360"/><use href="#R"/><use href="#R" transform="rotate(5)"/><use href="#R" transform="rotate(270)"/><use href="#R" transform="rotate(280)"/><use href="#R" transform="rotate(300)"/><use href="#O"/></g><text x="488.3" y="2137.3">Stenotrophomonas</text></g>
<g id="l-spirochaetaceae"><g transform="translate(473.3,2166.7) scale(.1248,-.1248)"><use href="#D"/><use href="#S" class="c7" stroke-dasharray="270 360"/><use href="#S" class="c3" stroke-dasharray="190 360"/><use href="#S" class="c14" stroke-dasharray="150 360"/><use href="#S" class="c1" stroke-dasharray="80 360"/><use href="#R"/><use href="#R" transform="rotate(80)"/><use href="#R" transform="rotate(150)"/><use href="#R" transform="rotate(190)"/><use href="#R" transform="rotate(270)"/><use href="#O"/></g><text x="490.1" y="2170.7">Spirochaetaceae</text></g>
<g id="l-mollicutes"><g transform="translate(473.3,2200) scale(.0934,-.0934)"><use href="#D"/><use href="#S" class="c7" stroke-dasharray="265 360"/><use href="#S" class="c3" stroke-dasharray="200 360"/><use href="#S" class="c14" stroke-dasharray="135 360"/><use href="#S" class="c1" stroke-dasharray="90 360"/><use href="#R"/><use href="#R" transform="rotate(90)"/><use href="#R" transform="rotate(135)"/><use href="#R" transform="rotate(200)"/><use href="#R" transform="rotate(265)"/><use href="#O"/></g><text x="486.5" y="2204">Mollicutes</text></g>
</g>
</svg>
